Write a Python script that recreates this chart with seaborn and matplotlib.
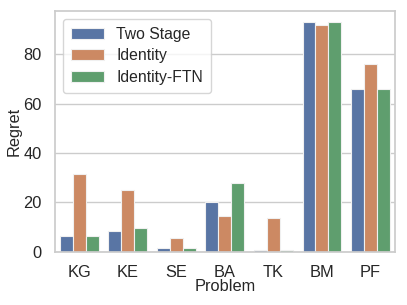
import matplotlib
matplotlib.use("Agg")
import matplotlib.pyplot as plt
import seaborn as sns
import pandas as pd

problems = ["KG", "KE", "SE", "BA", "TK", "BM", "PF"]
methods = ["Two Stage", "Identity", "Identity-FTN"]
two_stage = [6.5, 8.5, 1.6, 20.0, 0.9, 92.8, 66.0]
identity = [31.6, 25.2, 5.5, 14.6, 13.8, 91.8, 76.0]
identity_ftn = [6.5, 9.7, 1.4, 28.0, 0.9, 92.8, 66.0]

rows = []
for m, vals in zip(methods, [two_stage, identity, identity_ftn]):
    for p, v in zip(problems, vals):
        rows.append({"Problem": p, "Method": m, "Regret": v})
df = pd.DataFrame(rows)

sns.set_theme(style="whitegrid")
plt.rcParams['font.family'] = ['Liberation Sans', 'DejaVu Sans']
fig, ax = plt.subplots(figsize=(4.07, 3.05), dpi=100)
sns.barplot(data=df, x="Problem", y="Regret", hue="Method", ax=ax,
            edgecolor="#f0f0f0", linewidth=0.8)
ax.legend(loc="upper left", fontsize=11.3, borderpad=0.5, labelspacing=0.42,
          handletextpad=0.8, handlelength=2.1, borderaxespad=0.5)
ax.tick_params(axis="both", labelsize=11.8, pad=3.5)
ax.set_xlabel("Problem", fontsize=11.8, labelpad=-1)
ax.set_ylabel("Regret", fontsize=11.8, labelpad=1)
fig.subplots_adjust(left=0.135, right=0.97, top=0.964, bottom=0.174)
fig.savefig("out.png", dpi=100)
